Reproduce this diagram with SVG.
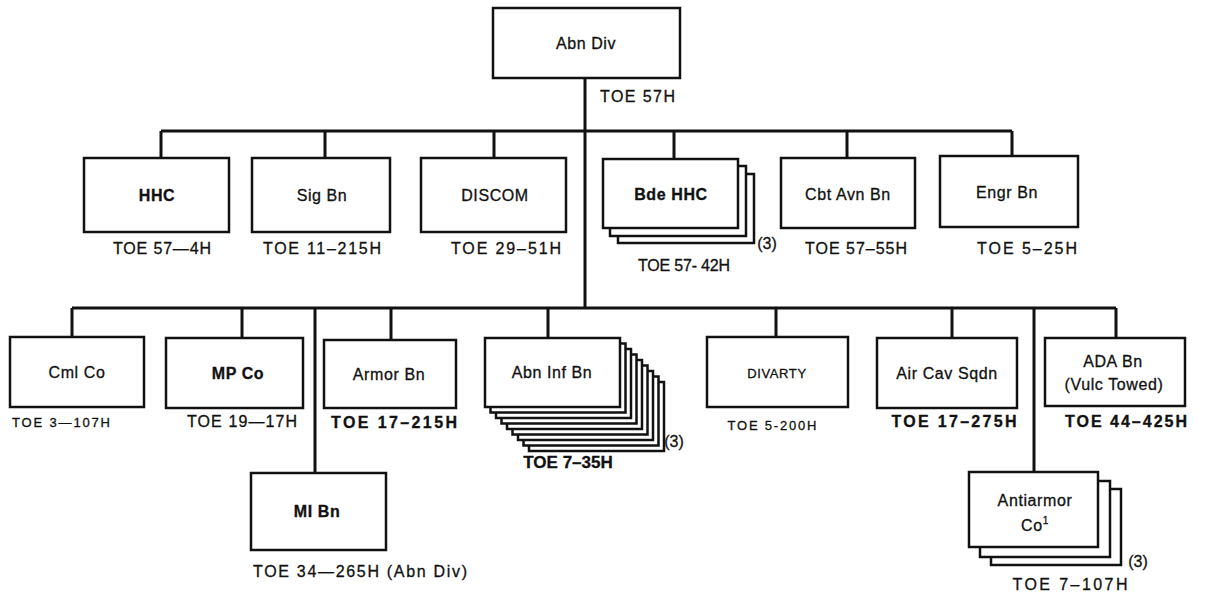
<svg xmlns="http://www.w3.org/2000/svg" width="1206" height="596" viewBox="0 0 1206 596">
<style>
.box{fill:#fff;stroke:#111;stroke-width:2.5}
.con{fill:none;stroke:#111;stroke-width:3}
.lbl{font-family:"Liberation Sans",Arial,sans-serif;font-size:16px;letter-spacing:0.6px;fill:#111;stroke:#111;stroke-width:0.3;text-anchor:middle}
.toe{font-family:"Liberation Sans",Arial,sans-serif;font-size:16px;fill:#111;stroke:#111;stroke-width:0.3;text-anchor:middle}
.b{font-weight:bold}
.sm{font-size:13px}
</style>
<rect width="1206" height="596" fill="#fff"/>
<g id="connectors">
<path class="con" d="M585 78V308"/>
<path class="con" d="M161 131H1012"/>
<path class="con" d="M161 131V158M325 131V158M494 131V158M674 131V159M847 131V158M1012 131V156"/>
<path class="con" d="M72 308H1116"/>
<path class="con" d="M72 308V337M242 308V338M315 308V473M391 308V340M548 308V338M776 308V337M952 308V338M1034 308V472M1116 308V338"/>
</g>
<g id="abn-div">
<rect class="box" x="493" y="8" width="187" height="70"/>
<text class="lbl" x="586" y="49">Abn Div</text>
<text class="toe" x="600" y="102" style="text-anchor:start" textLength="75" lengthAdjust="spacing">TOE 57H</text>
</g>
<g id="hhc">
<rect class="box" x="84" y="158" width="145" height="74"/>
<text class="lbl b" x="157" y="201">HHC</text>
<text class="toe" x="162" y="254" textLength="98" lengthAdjust="spacing">TOE 57—4H</text>
</g>
<g id="sig-bn">
<rect class="box" x="252" y="158" width="138" height="74"/>
<text class="lbl" x="322" y="201">Sig Bn</text>
<text class="toe" x="322" y="254" textLength="118" lengthAdjust="spacing">TOE 11–215H</text>
</g>
<g id="discom">
<rect class="box" x="421" y="158" width="145" height="74"/>
<text class="lbl" x="495" y="201">DISCOM</text>
<text class="toe" x="506" y="254" textLength="110" lengthAdjust="spacing">TOE 29–51H</text>
</g>
<g id="bde-hhc">
<rect class="box" x="618" y="174" width="136" height="69"/>
<rect class="box" x="610" y="166" width="136" height="70"/>
<rect class="box" x="603" y="159" width="135" height="69"/>
<text class="lbl b" x="671" y="200">Bde HHC</text>
<text class="toe" x="767" y="249">(3)</text>
<text class="toe" x="684" y="271" textLength="92" lengthAdjust="spacing">TOE 57- 42H</text>
</g>
<g id="cbt-avn-bn">
<rect class="box" x="781" y="158" width="134" height="70"/>
<text class="lbl" x="848" y="200">Cbt Avn Bn</text>
<text class="toe" x="856" y="254" textLength="102" lengthAdjust="spacing">TOE 57–55H</text>
</g>
<g id="engr-bn">
<rect class="box" x="940" y="156" width="138" height="71"/>
<text class="lbl" x="1007" y="198">Engr Bn</text>
<text class="toe" x="1027" y="254" textLength="100" lengthAdjust="spacing">TOE 5–25H</text>
</g>
<g id="cml-co">
<rect class="box" x="10" y="337" width="134" height="70"/>
<text class="lbl" x="77" y="378">Cml Co</text>
<text class="toe sm" x="61" y="427" textLength="98" lengthAdjust="spacing">TOE 3—107H</text>
</g>
<g id="mp-co">
<rect class="box" x="166" y="338" width="137" height="70"/>
<text class="lbl b" x="238" y="379">MP Co</text>
<text class="toe" x="242" y="427" textLength="110" lengthAdjust="spacing">TOE 19—17H</text>
</g>
<g id="armor-bn">
<rect class="box" x="324" y="340" width="132" height="68"/>
<text class="lbl" x="389" y="380">Armor Bn</text>
<text class="toe b" x="394" y="428" textLength="126" lengthAdjust="spacing">TOE 17–215H</text>
</g>
<g id="mi-bn">
<rect class="box" x="251" y="473" width="135" height="77"/>
<text class="lbl b" x="317" y="517">MI Bn</text>
<text class="toe" x="253" y="577" style="text-anchor:start" textLength="214" lengthAdjust="spacing">TOE 34—265H (Abn Div)</text>
</g>
<g id="abn-inf-bn">
<rect class="box" x="529" y="382" width="135" height="69"/>
<rect class="box" x="523.5" y="376.5" width="135" height="69"/>
<rect class="box" x="518" y="371" width="135" height="69"/>
<rect class="box" x="512.5" y="365.5" width="135" height="69"/>
<rect class="box" x="507" y="360" width="135" height="69"/>
<rect class="box" x="501.5" y="354.5" width="135" height="69"/>
<rect class="box" x="496" y="349" width="135" height="69"/>
<rect class="box" x="490.5" y="343.5" width="135" height="69"/>
<rect class="box" x="485" y="338" width="135" height="69"/>
<text class="lbl" x="552" y="378">Abn Inf Bn</text>
<text class="toe" x="674" y="447">(3)</text>
<text class="toe b" x="568" y="468" style="font-size:17px">TOE 7–35H</text>
</g>
<g id="divarty">
<rect class="box" x="707" y="337" width="141" height="70"/>
<text class="lbl sm" x="777" y="378">DIVARTY</text>
<text class="toe sm" x="772" y="430" textLength="89" lengthAdjust="spacing">TOE 5-200H</text>
</g>
<g id="air-cav-sqdn">
<rect class="box" x="877" y="338" width="140" height="70"/>
<text class="lbl" x="947" y="379">Air Cav Sqdn</text>
<text class="toe b" x="954" y="427" textLength="125" lengthAdjust="spacing">TOE 17–275H</text>
</g>
<g id="ada-bn">
<rect class="box" x="1045" y="338" width="140" height="68"/>
<text class="lbl" x="1113" y="367">ADA Bn</text>
<text class="lbl" x="1114" y="390">(Vulc Towed)</text>
<text class="toe b" x="1126" y="427" textLength="122" lengthAdjust="spacing">TOE 44–425H</text>
</g>
<g id="antiarmor-co">
<rect class="box" x="991" y="489" width="130" height="76"/>
<rect class="box" x="980" y="481" width="130" height="76"/>
<rect class="box" x="969" y="472" width="129" height="75"/>
<text class="lbl" x="1035" y="506">Antiarmor</text>
<text class="lbl" x="1035" y="531">Co<tspan font-size="10" dy="-7">1</tspan></text>
<text class="toe" x="1138" y="567">(3)</text>
<text class="toe" x="1070" y="590" textLength="115" lengthAdjust="spacing">TOE 7–107H</text>
</g>
</svg>
